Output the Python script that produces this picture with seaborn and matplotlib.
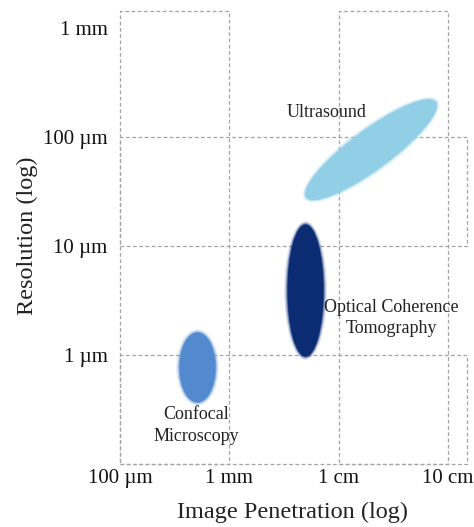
import numpy as np
import pandas as pd
import matplotlib
matplotlib.use("Agg")
import matplotlib.pyplot as plt
from matplotlib.patches import Ellipse
import seaborn as sns

# values are log10 of length in metres
x_ticks = [-4, -3, -2, -1]
x_tick_labels = ["100 µm", "1 mm", "1 cm", "10 cm"]
y_ticks = [-6, -5, -4, -3]
y_tick_labels = ["1 µm", "10 µm", "100 µm", "1 mm"]

# dashed boxes: (x0, x1, y0, y1)
box_x0 = [-4, -2, -4, -4]
box_x1 = [-3, -1, -0.826, -0.826]
box_y0 = [-7, -7, -5, -7]
box_y1 = [-2.845, -2.845, -4, -6]

# imaging modalities
names = ["Ultrasound", "Optical Coherence\nTomography", "Confocal\nMicroscopy"]
pen_center = [-1.704, -2.303, -3.291]
res_center = [-4.119, -5.410, -6.115]
span_w = [1.47, 0.33, 0.33]
span_h = [0.36, 1.21, 0.64]
tilt = [36.5, 0, 0]
colors = ["#90cfe6", "#0b2c73", "#5289cf"]
label_x = [-2.107, -1.521, -3.305]
label_y = [-3.78, -5.66, -6.65]
line_gap = [1.2, 1.3, 1.4]

sns.set_theme(style="white")
plt.rcParams['font.family'] = ['Liberation Serif', 'DejaVu Serif']

fig = plt.figure(figsize=(4.74, 5.27), dpi=100)
ax = fig.add_axes([0.2416, 0.1154, 0.7498, 0.8736])
ax.set_xlim(-4.05, -0.8)
ax.set_ylim(-7.02, -2.8)

df = pd.DataFrame({"x0": box_x0, "x1": box_x1, "y0": box_y0, "y1": box_y1})
for _, b in df.iterrows():
    ax.plot([b.x0, b.x1, b.x1, b.x0, b.x0], [b.y0, b.y0, b.y1, b.y1, b.y0],
            ls=(0, (3, 2)), lw=0.9, color="#a4a4a8", clip_on=False, zorder=1)

for i in range(len(names)):
    # soft edge
    for k, a in [(0.06, 0.15), (0.035, 0.3), (0.015, 0.5)]:
        ax.add_patch(Ellipse((pen_center[i], res_center[i]), span_w[i] + k, span_h[i] + k,
                             angle=tilt[i], color=colors[i], alpha=a, lw=0, zorder=2))
    ax.add_patch(Ellipse((pen_center[i], res_center[i]), span_w[i], span_h[i],
                         angle=tilt[i], color=colors[i], lw=0, zorder=3))
    ax.text(label_x[i], label_y[i], names[i], ha="center", va="center",
            fontsize=13, color="#222222", linespacing=line_gap[i], zorder=4)

ax.set_xticks(x_ticks)
ax.set_xticklabels(x_tick_labels, fontsize=15, color="#111111")
ax.set_yticks(y_ticks)
ax.set_yticklabels(y_tick_labels, fontsize=15, color="#111111")
ax.tick_params(axis="both", length=0)
ax.tick_params(axis="x", pad=2)
ax.tick_params(axis="y", pad=5)
for s in ax.spines.values():
    s.set_visible(False)

ax.set_xlabel("Image Penetration (log)", fontsize=17.5, color="#222222", labelpad=10)
ax.set_ylabel("Resolution (log)", fontsize=17.5, color="#222222")
ax.yaxis.set_label_coords(-0.215, 0.5)

fig.savefig("out.png", dpi=100, facecolor="white")
